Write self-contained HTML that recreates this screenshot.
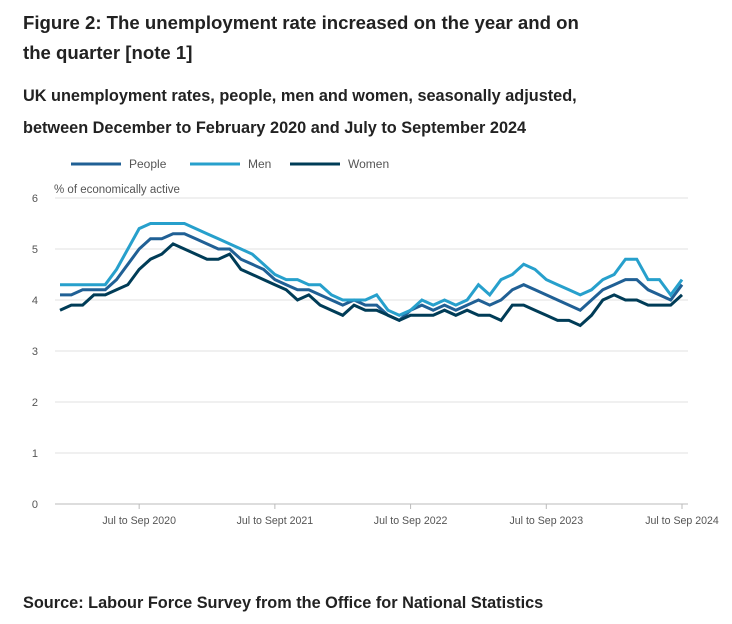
<!DOCTYPE html>
<html><head><meta charset="utf-8"><style>
body{margin:0;background:#fff;font-family:"Liberation Sans",sans-serif;color:#222}
.t{position:absolute;left:23px;font-weight:bold;margin:0}
</style></head><body>
<div style="position:relative;width:732px;height:624px;overflow:hidden">
<div class="t" style="top:8px;font-size:18.6px;line-height:30px;width:575px">Figure 2: The unemployment rate increased on the year and on the quarter [note 1]</div>
<div class="t" style="top:80px;font-size:16.3px;line-height:32px;width:620px">UK unemployment rates, people, men and women, seasonally adjusted, between December to February 2020 and July to September 2024</div>
<div class="t" style="top:594px;font-size:16.3px">Source: Labour Force Survey from the Office for National Statistics</div>
<svg id="c" width="732" height="624" style="position:absolute;left:0;top:0"></svg>
</div>
<script>
const categories=["Jul to Sep 2020","Jul to Sept 2021","Jul to Sep 2022","Jul to Sep 2023","Jul to Sep 2024"];
const categoryIndex=[7,19,31,43,55];
const yTicks=[0,1,2,3,4,5,6];
const people=[4.1,4.1,4.2,4.2,4.2,4.4,4.7,5.0,5.2,5.2,5.3,5.3,5.2,5.1,5.0,5.0,4.8,4.7,4.6,4.4,4.3,4.2,4.2,4.1,4.0,3.9,4.0,3.9,3.9,3.7,3.6,3.8,3.9,3.8,3.9,3.8,3.9,4.0,3.9,4.0,4.2,4.3,4.2,4.1,4.0,3.9,3.8,4.0,4.2,4.3,4.4,4.4,4.2,4.1,4.0,4.3];
const men=[4.3,4.3,4.3,4.3,4.3,4.6,5.0,5.4,5.5,5.5,5.5,5.5,5.4,5.3,5.2,5.1,5.0,4.9,4.7,4.5,4.4,4.4,4.3,4.3,4.1,4.0,4.0,4.0,4.1,3.8,3.7,3.8,4.0,3.9,4.0,3.9,4.0,4.3,4.1,4.4,4.5,4.7,4.6,4.4,4.3,4.2,4.1,4.2,4.4,4.5,4.8,4.8,4.4,4.4,4.1,4.4];
const women=[3.8,3.9,3.9,4.1,4.1,4.2,4.3,4.6,4.8,4.9,5.1,5.0,4.9,4.8,4.8,4.9,4.6,4.5,4.4,4.3,4.2,4.0,4.1,3.9,3.8,3.7,3.9,3.8,3.8,3.7,3.6,3.7,3.7,3.7,3.8,3.7,3.8,3.7,3.7,3.6,3.9,3.9,3.8,3.7,3.6,3.6,3.5,3.7,4.0,4.1,4.0,4.0,3.9,3.9,3.9,4.1];
const seriesNames=["People","Men","Women"];
const colors=["#206095","#27a0cc","#003c57"];
const ns="http://www.w3.org/2000/svg",svg=document.getElementById('c');
const x=i=>60+i*(622/55), y=v=>504-v*51;
function mk(t,a){const e=document.createElementNS(ns,t);for(const k in a)e.setAttribute(k,a[k]);svg.appendChild(e);return e;}
yTicks.forEach(v=>{
 const l=mk('line',{x1:55,x2:688,y1:y(v),y2:y(v),stroke:v==0?'#bbb':'#e2e2e2','stroke-width':1});
 
 
 const t=mk('text',{x:38,y:y(v)+4,'font-size':11,fill:'#555','font-family':'Liberation Sans, sans-serif','text-anchor':'end'});t.textContent=v;
 
 
});
const yt=mk('text',{x:54,y:193,'font-size':11.5,fill:'#555','font-family':'Liberation Sans, sans-serif'});yt.textContent='% of economically active';


categories.forEach((c,k)=>{
 const xx=x(categoryIndex[k]);
 const tk=mk('line',{x1:xx,x2:xx,y1:504,y2:509,stroke:'#bbb'});
 
 
 const t=mk('text',{x:xx,y:524,'font-size':10.6,fill:'#555','font-family':'Liberation Sans, sans-serif','text-anchor':'middle'});t.textContent=c;
 
 
});
[people,men,women].forEach((s,k)=>{
 const p=mk('polyline',{points:s.map((v,i)=>x(i)+','+y(v)).join(' '),fill:'none',stroke:colors[k],'stroke-width':3,'stroke-linejoin':'miter'});
 
 
});
const lx=[71,190,290];
seriesNames.forEach((n,k)=>{
 const l=mk('line',{x1:lx[k],x2:lx[k]+50,y1:164,y2:164,stroke:colors[k],'stroke-width':3});
 
 
 const t=mk('text',{x:lx[k]+58,y:168,'font-size':12,fill:'#555','font-family':'Liberation Sans, sans-serif'});t.textContent=n;
 
 
});
</script>
</body></html>
